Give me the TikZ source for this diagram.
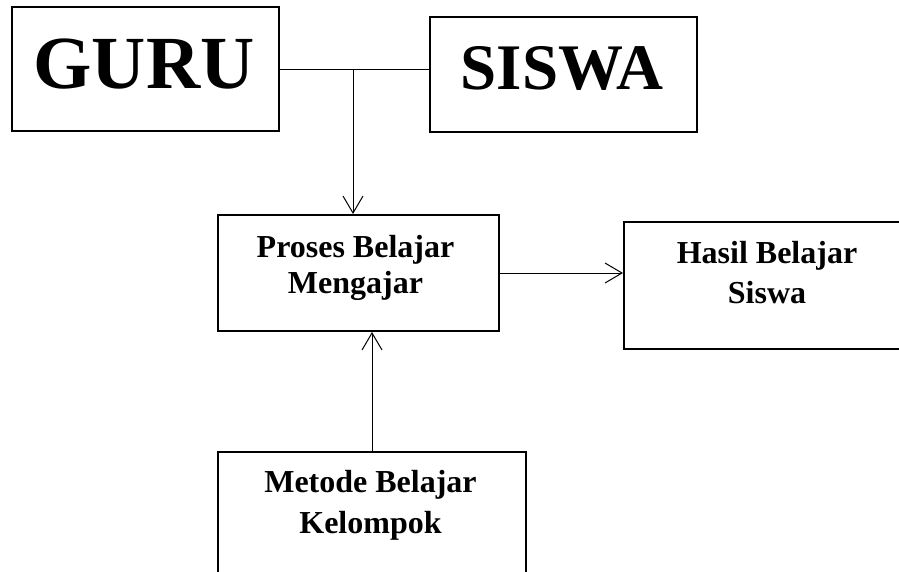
\documentclass[tikz,border=0pt]{standalone}
\usepackage{fontspec}
\setmainfont{Liberation Serif}
\usetikzlibrary{arrows.meta}
\begin{document}
\begin{tikzpicture}[x=1pt,y=-1pt,
  box/.style={draw=black,line width=2pt,rectangle,inner sep=0pt,anchor=north west},
  lbl/.style={anchor=base,inner sep=0pt,font=\bfseries\fontsize{32}{36}\selectfont},
  conn/.style={line width=1pt},
  arr/.style={line width=1pt,-{Straight Barb[length=17pt,width=20pt,line width=1pt]}}]
\useasboundingbox (0,0) rectangle (899,571);
\node[box,minimum width=267pt,minimum height=124pt] (guru) at (11,6) {};
\node[box,minimum width=267pt,minimum height=115pt] (siswa) at (429,16) {};
\node[box,minimum width=281pt,minimum height=116pt] (proses) at (217,214) {};
\node[box,minimum width=290pt,minimum height=127pt] (hasil) at (623,221) {};
\node[box,minimum width=308pt,minimum height=140pt] (metode) at (217,451) {};
\node[lbl,font=\bfseries\fontsize{75}{80}\selectfont] (tguru) at (144,88) {GURU};
\node[lbl,font=\bfseries\fontsize{65}{70}\selectfont] (tsiswa) at (562,89) {SISWA};
\node[lbl] (tp1) at (355.5,257) {Proses Belajar};
\node[lbl] (tp2) at (355.5,293) {Mengajar};
\node[lbl] (th1) at (767,263) {Hasil Belajar};
\node[lbl] (th2) at (767,303) {Siswa};
\node[lbl] (tm1) at (370.5,492) {Metode Belajar};
\node[lbl] (tm2) at (370.5,533) {Kelompok};
\coordinate (j) at (353,69);
\draw[conn] (guru.east |- j) -- (siswa.west |- j);
\draw[arr] (j) -- (j |- proses.north);
\draw[arr] (proses.east) -- (proses.east -| hasil.west);
\draw[arr] (metode.north) -- (metode.north |- proses.south);
\end{tikzpicture}
\end{document}
